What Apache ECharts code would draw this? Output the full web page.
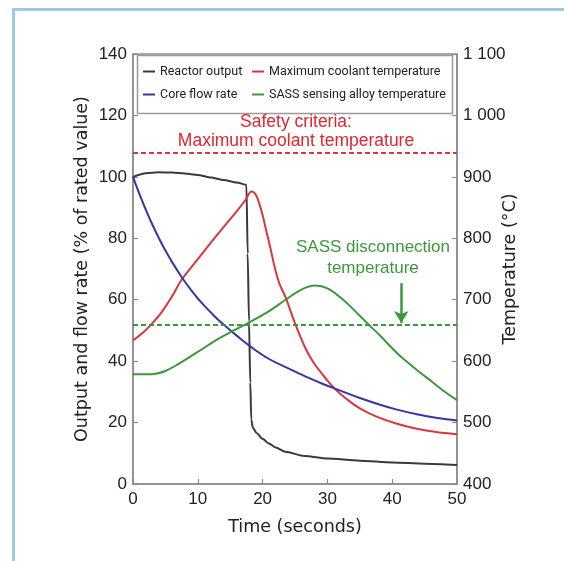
<!DOCTYPE html>
<html>
<head>
<meta charset="utf-8">
<script src="https://cdn.jsdelivr.net/npm/echarts@6/dist/echarts.min.js"></script>
<style>
  html, body { margin: 0; padding: 0; background: #fff; }
  #chart { width: 564px; height: 561px; }
</style>
</head>
<body>
<div id="chart"></div>
<script>
// time axis (s) and values
const outputTime = [0, 2, 4, 6, 8, 10, 12, 14, 16, 17.5, 17.7, 17.9, 18.1, 18.25, 18.5, 19.1, 20, 20.9, 22, 23.5, 26.5, 30, 35, 40, 45, 50]
const outputValue = [100, 101.2, 101.5, 101.4, 101.1, 100.6, 99.8, 99, 98.2, 97.4, 75, 53, 33, 21, 18.3, 16.5, 14.7, 13.3, 11.9, 10.5, 9.1, 8.3, 7.6, 7.0, 6.6, 6.2]

const flowTime = [0, 1, 2, 3, 4.1, 5, 6, 7.5, 9, 10.5, 12.7, 14.2, 16, 18.3, 21, 23.9, 26.5, 29.5, 32, 35, 38, 40.6, 44, 47, 50]
const flowValue = [100, 94.4, 89.2, 84.4, 79.6, 76, 72.4, 67.4, 63.05, 59.2, 54.4, 51.5, 48.3, 44.5, 40.7, 37.7, 35.1, 32.4, 30.4, 28, 25.9, 24.3, 22.6, 21.5, 20.7]

// temperatures in °C (right axis)
const coolantTime = [0, 1.6, 3, 4.4, 6, 7.5, 10, 12.7, 14.2, 16, 17.3, 18.3, 19.3, 20.9, 22.4, 23.6, 25, 26.5, 27.8, 29.5, 31.1, 33, 35, 37.5, 40.6, 45, 50]
const coolantTemp = [633.5, 647, 662, 679.5, 705, 732.5, 766, 802, 821, 844, 861.5, 876, 862.5, 797.5, 732, 702.5, 661.5, 623.5, 598.5, 575, 555.5, 538, 523, 510, 498.5, 487.5, 481]

const sassTime = [0, 2, 3.5, 5, 7.1, 10, 12.7, 14.2, 18.1, 21, 23.5, 26, 28.1, 30, 32.3, 35, 36.3, 38, 40.6, 42, 44, 46.2, 48, 50]
const sassTemp = [578.5, 578.5, 579.5, 584, 596, 615, 633.5, 642.5, 664, 681.5, 699.5, 716.5, 723, 718.5, 701, 674, 660, 643, 614.5, 601.5, 584, 566, 551, 536.5]

const safetyLimit = 940
const sassDisconnect = 660
const arrowTime = 41.4
const arrowFrom = 727

const names = ['Reactor output', 'Maximum coolant temperature', 'Core flow rate', 'SASS sensing alloy temperature']

const pairs = (xs, ys) => xs.map((x, i) => [x, ys[i]])

const axisColor = '#8c8c8c'
const labelFont = 'Liberation Sans, Arial, sans-serif'
const titleFont = 'DejaVu Sans, sans-serif'
const legendFont = 'Roboto, Liberation Sans, sans-serif'
const red = '#d8383d'
const green = '#3b993b'

const axisCommon = {
  axisLine: { show: true, lineStyle: { color: axisColor, width: 1.5 } },
  axisTick: { show: true, inside: true, length: 5, lineStyle: { color: axisColor, width: 1.2 } },
  splitLine: { show: false },
  axisLabel: { fontSize: 17, color: '#222', fontFamily: labelFont },
  nameLocation: 'middle',
  nameMoveOverlap: false,
  nameTextStyle: { fontSize: 17.5, color: '#222', fontFamily: titleFont },
}

const legendCommon = {
  orient: 'vertical',
  top: 62.5,
  padding: 0,
  itemWidth: 12,
  itemHeight: 2,
  itemGap: 5,
  icon: 'rect',
  selectedMode: false,
  textStyle: { fontSize: 12.5, lineHeight: 18, color: '#222', fontFamily: legendFont },
}

const option = {
  backgroundColor: '#fff',
  animation: false,
  grid: { left: 133, right: 107, top: 54, bottom: 77, show: true, borderColor: axisColor, borderWidth: 1.5 },
  legend: [
    { ...legendCommon, left: 143, data: [names[0], names[2]] },
    { ...legendCommon, left: 252, data: [names[1], names[3]] },
  ],
  xAxis: {
    ...axisCommon,
    type: 'value', min: 0, max: 50, interval: 10,
    axisLabel: { ...axisCommon.axisLabel, margin: 7 },
    name: 'Time (seconds)', nameGap: 34,
  },
  yAxis: [
    {
      ...axisCommon,
      type: 'value', position: 'left', min: 0, max: 140, interval: 20,
      axisLabel: { ...axisCommon.axisLabel, margin: 6 },
      name: 'Output and flow rate (% of rated value)', nameGap: 42,
    },
    {
      ...axisCommon,
      type: 'value', position: 'right', min: 400, max: 1100, interval: 100,
      axisLabel: {
        ...axisCommon.axisLabel, margin: 6,
        formatter: (v) => v >= 1000 ? String(v).replace(/^(\d)/, '$1 ') : String(v),
      },
      name: 'Temperature (°C)', nameGap: 44,
    },
  ],
  series: [
    {
      name: names[0], type: 'line', yAxisIndex: 0, showSymbol: false,
      smooth: 0.25, smoothMonotone: 'x',
      itemStyle: { color: '#3a3a3a' }, lineStyle: { color: '#3a3a3a', width: 2 },
      data: pairs(outputTime, outputValue),
    },
    {
      name: names[1], type: 'line', yAxisIndex: 1, showSymbol: false, smooth: 0.4,
      itemStyle: { color: red }, lineStyle: { color: red, width: 2 },
      data: pairs(coolantTime, coolantTemp),
      markLine: {
        silent: true, symbol: ['none', 'none'], label: { show: false },
        lineStyle: { color: red, width: 2, type: [5, 3] },
        data: [{ yAxis: safetyLimit }],
      },
    },
    {
      name: names[2], type: 'line', yAxisIndex: 0, showSymbol: false, smooth: 0.4,
      itemStyle: { color: '#3636a6' }, lineStyle: { color: '#3636a6', width: 2 },
      data: pairs(flowTime, flowValue),
    },
    {
      name: names[3], type: 'line', yAxisIndex: 1, showSymbol: false, smooth: 0.4,
      itemStyle: { color: green }, lineStyle: { color: green, width: 2 },
      data: pairs(sassTime, sassTemp),
      markLine: {
        silent: true, symbol: ['none', 'none'], label: { show: false },
        lineStyle: { color: green, width: 2, type: [5, 3] },
        data: [
          { yAxis: sassDisconnect },
          [
            { coord: [arrowTime, arrowFrom], symbol: 'none', lineStyle: { type: 'solid', width: 2.5, color: green } },
            { coord: [arrowTime, sassDisconnect + 2], symbol: 'arrow', symbolSize: [11, 12] },
          ],
        ],
      },
    },
  ],
  graphic: [
    { type: 'rect', z: 100, shape: { x: 12, y: 8, width: 552, height: 3 }, style: { fill: '#9fc5e8' } },
    { type: 'rect', z: 100, shape: { x: 12, y: 8, width: 3, height: 553 }, style: { fill: '#9fc5e8' } },
    { type: 'rect', z: 3, shape: { x: 137.5, y: 55.5, width: 315, height: 58 }, style: { fill: '#fff', stroke: '#9a9a9a', lineWidth: 1.5 } },
    { type: 'text', z: 10, x: 296, y: 122, style: { text: 'Safety criteria:', align: 'center', verticalAlign: 'middle', fill: '#e0262e', font: '17.5px ' + labelFont } },
    { type: 'text', z: 10, x: 296, y: 141, style: { text: 'Maximum coolant temperature', align: 'center', verticalAlign: 'middle', fill: '#e0262e', font: '17.5px ' + labelFont } },
    { type: 'text', z: 10, x: 373, y: 247, style: { text: 'SASS disconnection', align: 'center', verticalAlign: 'middle', fill: green, font: '17px ' + labelFont } },
    { type: 'text', z: 10, x: 373, y: 268, style: { text: 'temperature', align: 'center', verticalAlign: 'middle', fill: green, font: '17px ' + labelFont } },
  ],
}

const chart = echarts.init(document.getElementById('chart'))
chart.setOption(option)
</script>
</body>
</html>
